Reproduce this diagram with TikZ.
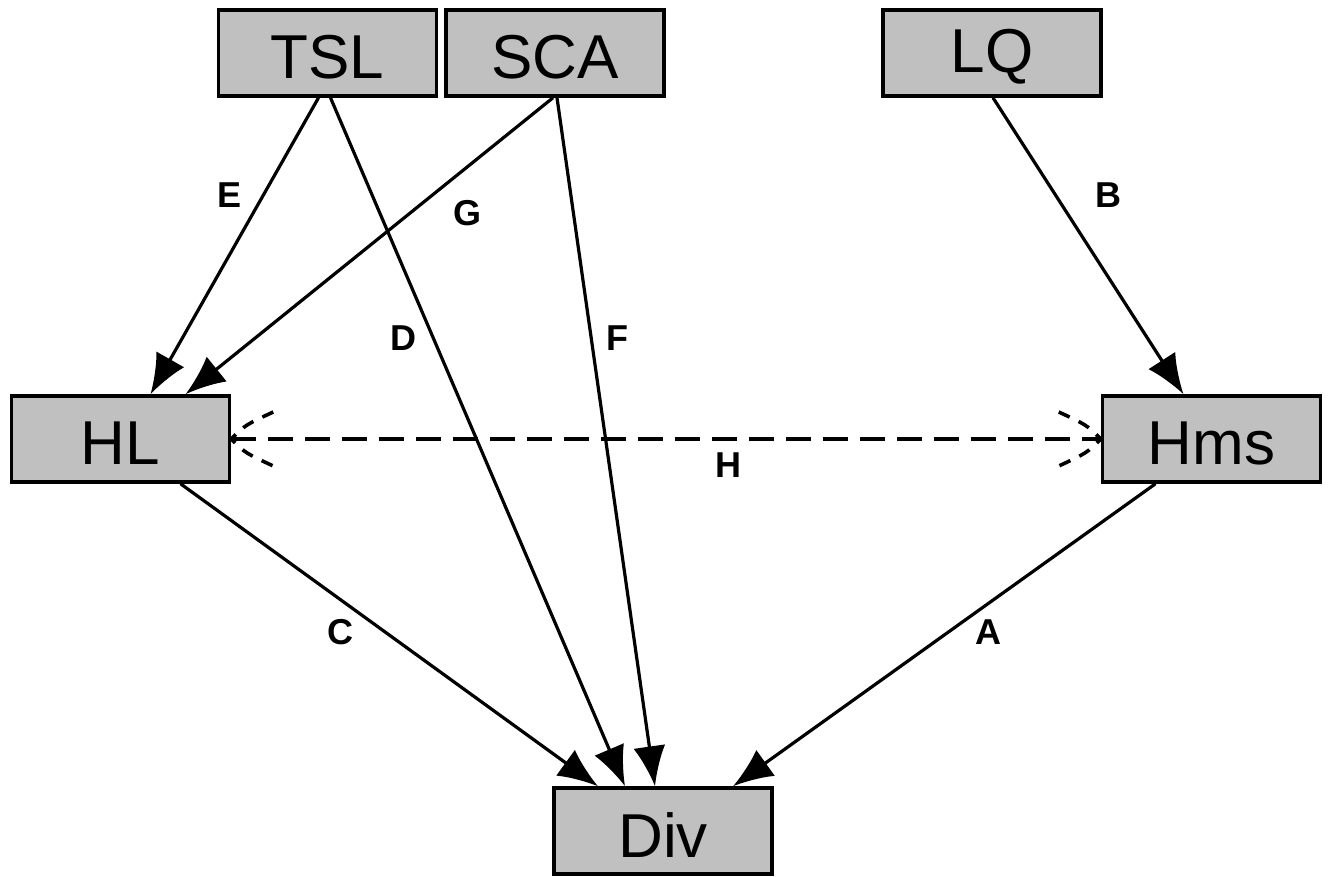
\documentclass[tikz,border=0pt]{standalone}
\usepackage{fontspec}
\setmainfont{Liberation Sans}
\usetikzlibrary{arrows.meta,calc}
\definecolor{boxgray}{RGB}{192,192,192}
\newcommand{\boxtxt}[1]{\raisebox{-4pt}[\height][\depth]{#1}}
\tikzset{
  box/.style={draw=black, line width=3.5pt, fill=boxgray, minimum width=218pt, minimum height=86pt, inner sep=0pt, font=\fontsize{62}{70}\selectfont},
  lab/.style={font=\fontsize{36}{40}\selectfont\bfseries, inner sep=0pt},
  conn/.style={line width=3.2pt, -{Latex[length=40pt,width=32pt]}},
  dconn/.style={line width=3.6pt, dash pattern=on 25pt off 12pt},
}
\begin{document}
\begin{tikzpicture}[x=1pt,y=-1pt]
\useasboundingbox (0,0) rectangle (1329,877);
\node[box] (TSL) at (327.5,53) {\boxtxt{TSL}};
\node[box] (SCA) at (555,53) {\boxtxt{SCA}};
\node[box] (LQ) at (992,53) {\boxtxt{LQ}};
\node[box] (HL) at (120.5,439) {\boxtxt{HL}};
\node[box] (Hms) at (1211.5,439) {\boxtxt{Hms}};
\node[box] (Div) at (663,831) {\boxtxt{Div}};

\draw[conn] ([xshift=-9pt]TSL.south) -- ([xshift=30pt]HL.north);
\draw[conn] ([xshift=3pt]TSL.south) -- ([xshift=-38pt]Div.north);
\draw[conn] ([xshift=-2pt]SCA.south) -- ([xshift=65pt]HL.north);
\draw[conn] ([xshift=2pt]SCA.south) -- ([xshift=-8pt]Div.north);
\draw[conn] ([xshift=1pt]LQ.south) -- ([xshift=-28pt]Hms.north);
\draw[conn] ([xshift=60pt]HL.south) -- ([xshift=-65pt]Div.north);
\draw[conn] ([xshift=-56pt]Hms.south) -- ([xshift=70pt]Div.north);

\draw[dconn] (HL.east) -- (Hms.west);
\draw[dconn, dash pattern=on 12pt off 10pt] ($(HL.east)+(42,-27)$) .. controls ($(HL.east)+(14,-14)$) .. (HL.east) .. controls ($(HL.east)+(14,14)$) .. ($(HL.east)+(42,27)$);
\draw[dconn, dash pattern=on 12pt off 10pt] ($(Hms.west)+(-42,-27)$) .. controls ($(Hms.west)+(-14,-14)$) .. (Hms.west) .. controls ($(Hms.west)+(-14,14)$) .. ($(Hms.west)+(-42,27)$);

\node[lab] (lE) at (230,195) {E};
\node[lab] (lD) at (403,338) {D};
\node[lab] (lG) at (467,213) {G};
\node[lab] (lF) at (617,338) {F};
\node[lab] (lB) at (1108,195) {B};
\node[lab] (lC) at (340,632) {C};
\node[lab] (lA) at (988,632) {A};
\node[lab] (lH) at (728,465) {H};
\end{tikzpicture}
\end{document}
